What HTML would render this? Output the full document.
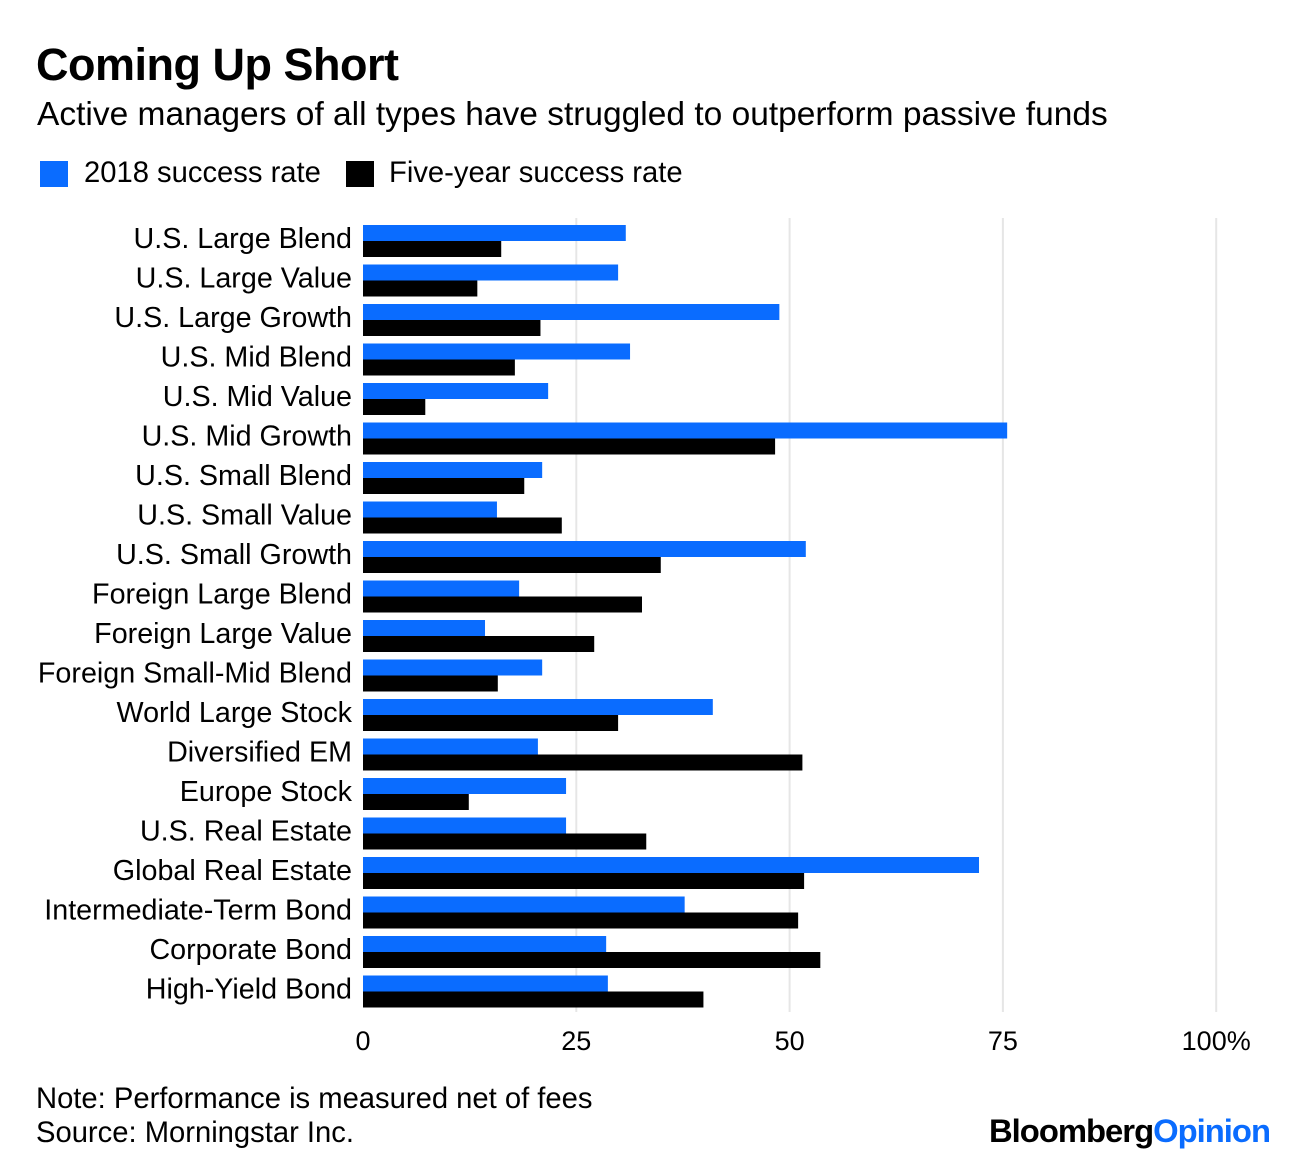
<!DOCTYPE html>
<html><head><meta charset="utf-8"><style>
body{margin:0;background:#fff;font-family:"Liberation Sans",sans-serif;}
#wrap{position:relative;width:1296px;height:1164px;overflow:hidden;}
.t{position:absolute;white-space:nowrap;color:#000;}
</style></head><body>
<div id="wrap">
<div class="t" style="left:36px;top:39px;font-size:45px;font-weight:bold;letter-spacing:-0.5px">Coming Up Short</div>
<div class="t" style="left:37px;top:96px;font-size:33.5px">Active managers of all types have struggled to outperform passive funds</div>
<div style="position:absolute;left:40px;top:161px;width:28px;height:26px;background:#0a6cff"></div>
<div class="t" style="left:84px;top:157px;font-size:29.2px">2018 success rate</div>
<div style="position:absolute;left:346px;top:161px;width:28px;height:26px;background:#000"></div>
<div class="t" style="left:389px;top:157px;font-size:29.2px">Five-year success rate</div>
<svg id="chart" width="1296" height="1164" style="position:absolute;left:0;top:0"></svg>
<div class="t" style="left:36px;top:1083px;font-size:29.2px">Note: Performance is measured net of fees</div>
<div class="t" style="left:36px;top:1117px;font-size:29.2px">Source: Morningstar Inc.</div>
<div class="t" style="left:989px;top:1112px;font-size:32.8px;font-weight:bold;letter-spacing:-1px">Bloomberg<span style="color:#0a6cff">Opinion</span></div>
</div>
<script>
const categories=["U.S. Large Blend","U.S. Large Value","U.S. Large Growth","U.S. Mid Blend","U.S. Mid Value","U.S. Mid Growth","U.S. Small Blend","U.S. Small Value","U.S. Small Growth","Foreign Large Blend","Foreign Large Value","Foreign Small-Mid Blend","World Large Stock","Diversified EM","Europe Stock","U.S. Real Estate","Global Real Estate","Intermediate-Term Bond","Corporate Bond","High-Yield Bond"];
const rate2018=[30.8,29.9,48.8,31.3,21.7,75.5,21.0,15.7,51.9,18.3,14.3,21.0,41.0,20.5,23.8,23.8,72.2,37.7,28.5,28.7];
const rateFiveYear=[16.2,13.4,20.8,17.8,7.3,48.3,18.9,23.3,34.9,32.7,27.1,15.8,29.9,51.5,12.4,33.2,51.7,51.0,53.6,39.9];
const tickValues=[0,25,50,75,100];
const tickLabels=["0","25","50","75","100%"];
const NS="http://www.w3.org/2000/svg";
const svg=document.getElementById('chart');
const x=v=>363+v*8.532;
const rowY=i=>225+i*39.5;
function mk(tag,attrs){const e=document.createElementNS(NS,tag);for(const k in attrs)e.setAttribute(k,attrs[k]);svg.appendChild(e);return e;}
tickValues.forEach((v,i)=>{
  if(v>0){const g=mk('line',{x1:x(v),x2:x(v),y1:218,y2:1012,stroke:'#e6e6e6','stroke-width':2});
  
  }
  const t=mk('text',{x:x(v),y:1050,'font-size':27,'text-anchor':'middle','font-family':'Liberation Sans, sans-serif'});
  t.textContent=tickLabels[i];
  
  
});
categories.forEach((c,i)=>{
  const y=rowY(i);
  const b=mk('rect',{x:x(0),y:y,width:x(rate2018[i])-x(0),height:16,fill:'#0a6cff'});
  
  
  const k=mk('rect',{x:x(0),y:y+16,width:x(rateFiveYear[i])-x(0),height:16,fill:'#000'});
  
  
  const t=mk('text',{x:352,y:y+23,'font-size':28.7,'text-anchor':'end','font-family':'Liberation Sans, sans-serif'});
  t.textContent=c;
  
  
});
</script>
</body></html>
